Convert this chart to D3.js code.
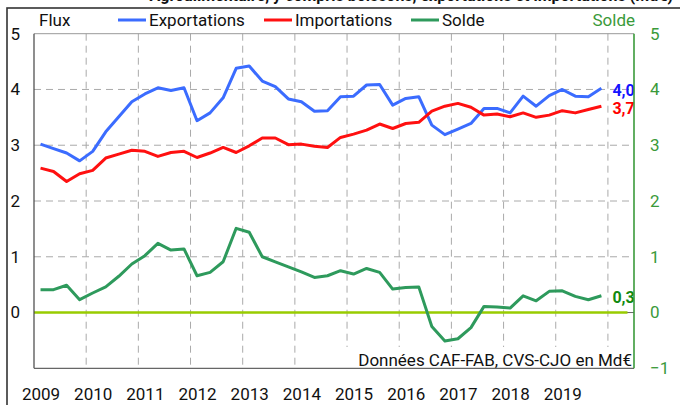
<!DOCTYPE html>
<html>
<head>
<meta charset="utf-8">
<script src="https://cdn.jsdelivr.net/npm/d3@7"></script>
<style>
  body { margin: 0; background: #fff; }
  svg { display: block; font-family: Roboto, "Noto Sans", sans-serif; }
</style>
</head>
<body>
<div id="chart"></div>
<script>
// data, quarterly 2009T1 .. 2019T4 (Md€)
const years = ["2009", "2010", "2011", "2012", "2013", "2014", "2015", "2016", "2017", "2018", "2019"]

const exportations = [
  3.02, 2.94, 2.86, 2.72, 2.89, 3.24, 3.51, 3.78, 3.92, 4.03, 3.98, 4.03,
  3.44, 3.58, 3.85, 4.38, 4.42, 4.15, 4.05, 3.83, 3.78, 3.61, 3.62, 3.87,
  3.88, 4.08, 4.09, 3.72, 3.84, 3.87, 3.36, 3.19, 3.29, 3.39, 3.66, 3.66,
  3.58, 3.88, 3.70, 3.89, 4.00, 3.88, 3.87, 4.02
]
const importations = [
  2.59, 2.53, 2.35, 2.49, 2.55, 2.77, 2.84, 2.91, 2.89, 2.80, 2.87, 2.89,
  2.78, 2.86, 2.96, 2.87, 2.99, 3.13, 3.13, 3.01, 3.02, 2.98, 2.96, 3.14,
  3.20, 3.27, 3.38, 3.30, 3.39, 3.41, 3.61, 3.70, 3.75, 3.68, 3.54, 3.56,
  3.51, 3.58, 3.50, 3.54, 3.62, 3.58, 3.64, 3.70
]
const solde = [
  0.41, 0.41, 0.49, 0.23, 0.35, 0.46, 0.65, 0.87, 1.02, 1.24, 1.12, 1.14,
  0.66, 0.72, 0.91, 1.51, 1.44, 1.00, 0.91, 0.82, 0.73, 0.63, 0.66, 0.75,
  0.69, 0.79, 0.72, 0.42, 0.45, 0.46, -0.25, -0.51, -0.47, -0.27, 0.11, 0.10,
  0.08, 0.30, 0.21, 0.38, 0.39, 0.29, 0.23, 0.30
]
const leftTicks = [0, 1, 2, 3, 4, 5]
const rightTicks = [-1, 0, 1, 2, 3, 4, 5]

const quarters = []
years.forEach(y => ["T1", "T2", "T3", "T4"].forEach(q => quarters.push(y + q)))

const width = 680, height = 405
const plot = { left: 34, right: 634, top: 33.7, bottom: 368.3 }

const blue = "#3b6cff", red = "#ff1010", green = "#2e9a5c", axisGreen = "#3a9a3a"

const svg = d3.select("#chart").append("svg").attr("width", width).attr("height", height)

// 46 slots: 44 quarters + 2 empty at the end for the value labels
const x = d3.scaleLinear().domain([0, quarters.length + 2]).range([plot.left, plot.right])
const y = d3.scaleLinear().domain([-1, 5]).range([plot.bottom, plot.top])
const xc = i => x(i + 0.5)

// title (cut by the top of the picture, as in the original)
svg.append("text")
  .attr("x", 673).attr("y", 0.5)
  .attr("text-anchor", "end")
  .attr("font-size", 16).attr("font-weight", "bold")
  .attr("fill", "#111")
  .text("Agroalimentaire, y compris boissons, exportations et importations (Md€)")

// frame
svg.append("rect")
  .attr("x", 7).attr("y", 8).attr("width", 720).attr("height", 450)
  .attr("fill", "none").attr("stroke", "#333").attr("stroke-width", 1.6)

// grid
const grid = svg.append("g").attr("stroke", "#aaa").attr("stroke-width", 1).attr("stroke-dasharray", "7,5")
grid.selectAll("line.h")
  .data(rightTicks.filter(d => d > -1 && d < 5))
  .join("line")
  .attr("class", "h")
  .attr("x1", plot.left).attr("x2", plot.right)
  .attr("y1", d => y(d)).attr("y2", d => y(d))
grid.selectAll("line.v")
  .data(years.map((d, i) => (i + 1) * 4))
  .join("line")
  .attr("class", "v")
  .attr("x1", d => x(d)).attr("x2", d => x(d))
  .attr("y1", plot.top).attr("y2", plot.bottom)

// top border of plot
svg.append("line")
  .attr("x1", plot.left).attr("x2", plot.right)
  .attr("y1", plot.top).attr("y2", plot.top)
  .attr("stroke", "#999").attr("stroke-width", 1)

// zero line
svg.append("line")
  .attr("x1", plot.left).attr("x2", plot.right)
  .attr("y1", y(0)).attr("y2", y(0))
  .attr("stroke", "#666").attr("stroke-width", 1)
svg.append("line")
  .attr("x1", plot.left).attr("x2", xc(quarters.length + 1))
  .attr("y1", y(0)).attr("y2", y(0))
  .attr("stroke", "#99cc00").attr("stroke-width", 2.5)

// source note with white background
const note = svg.append("g")
note.append("rect")
  .attr("x", 344).attr("y", 347).attr("width", plot.right - 345).attr("height", plot.bottom - 347)
  .attr("fill", "#fff")
note.append("text")
  .attr("x", plot.right - 2).attr("y", 366)
  .attr("text-anchor", "end")
  .attr("font-size", 17).attr("fill", "#111")
  .text("Données CAF-FAB, CVS-CJO en Md€")

// series
const line = d3.line().x((d, i) => xc(i)).y(d => y(d))
const series = [
  { name: "Exportations", values: exportations, color: blue, label: "#1414ff" },
  { name: "Importations", values: importations, color: red, label: "#ff0000" },
  { name: "Solde", values: solde, color: green, label: "#118a11" }
]
svg.selectAll("path.serie")
  .data(series)
  .join("path")
  .attr("class", "serie")
  .attr("d", d => line(d.values))
  .attr("fill", "none")
  .attr("stroke", d => d.color)
  .attr("stroke-width", 3)
  .attr("stroke-linejoin", "round")

// last values
const fmt = v => d3.format(".1f")(v).replace(".", ",")
svg.selectAll("text.last")
  .data(series)
  .join("text")
  .attr("class", "last")
  .attr("x", xc(quarters.length - 1) + 11)
  .attr("y", d => y(d.values[d.values.length - 1]) + 2)
  .attr("dy", "0.35em")
  .attr("font-size", 16).attr("font-weight", "bold")
  .attr("fill", d => d.label)
  .text(d => fmt(d.values[d.values.length - 1]))

// axes lines
svg.append("line")
  .attr("x1", plot.left).attr("x2", plot.left)
  .attr("y1", plot.top).attr("y2", plot.bottom)
  .attr("stroke", "#444").attr("stroke-width", 1.2)
svg.append("line")
  .attr("x1", plot.left).attr("x2", plot.right)
  .attr("y1", plot.bottom).attr("y2", plot.bottom)
  .attr("stroke", "#666").attr("stroke-width", 1.2)
svg.append("line")
  .attr("x1", plot.right).attr("x2", plot.right)
  .attr("y1", plot.top).attr("y2", plot.bottom)
  .attr("stroke", axisGreen).attr("stroke-width", 1.6)

// tick labels
const leftAxis = svg.append("g")
  .attr("transform", `translate(${plot.left - 14},0)`)
  .call(d3.axisLeft(y).tickValues(leftTicks).tickSize(0).tickPadding(0).tickFormat(d3.format("d")))
leftAxis.select(".domain").remove()
leftAxis.selectAll("text").attr("font-size", 17).attr("fill", "#111").attr("font-family", "Roboto")

const rightAxis = svg.append("g")
  .attr("transform", `translate(${plot.right + 16},0)`)
  .call(d3.axisRight(y).tickValues(rightTicks).tickSize(0).tickPadding(0).tickFormat(d3.format("d")))
rightAxis.select(".domain").remove()
rightAxis.selectAll("text").attr("font-size", 17).attr("fill", axisGreen).attr("font-family", "Roboto")

const bottomAxis = svg.append("g")
  .attr("transform", `translate(0,${plot.bottom})`)
  .call(d3.axisBottom(x).tickValues(years.map((d, i) => i * 4 + 0.5)).tickSize(0).tickPadding(20)
    .tickFormat((d, i) => years[i]))
bottomAxis.select(".domain").remove()
bottomAxis.selectAll("text").attr("font-size", 17).attr("fill", "#111").attr("font-family", "Roboto")

// legend
svg.append("text").attr("x", 39).attr("y", 26).attr("font-size", 17).attr("fill", "#111").text("Flux")
const legendPos = [118, 264, 411]
const leg = svg.selectAll("g.leg")
  .data(series)
  .join("g")
  .attr("class", "leg")
  .attr("transform", (d, i) => `translate(${legendPos[i]},0)`)
leg.append("line")
  .attr("x1", 0).attr("x2", 28).attr("y1", 20).attr("y2", 20)
  .attr("stroke", d => d.color).attr("stroke-width", 3)
leg.append("text")
  .attr("x", 31).attr("y", 26)
  .attr("font-size", 17).attr("fill", "#111")
  .text(d => d.name)
svg.append("text").attr("x", 635).attr("y", 26).attr("text-anchor", "end")
  .attr("font-size", 17).attr("fill", axisGreen).text("Solde")
</script>
</body>
</html>
